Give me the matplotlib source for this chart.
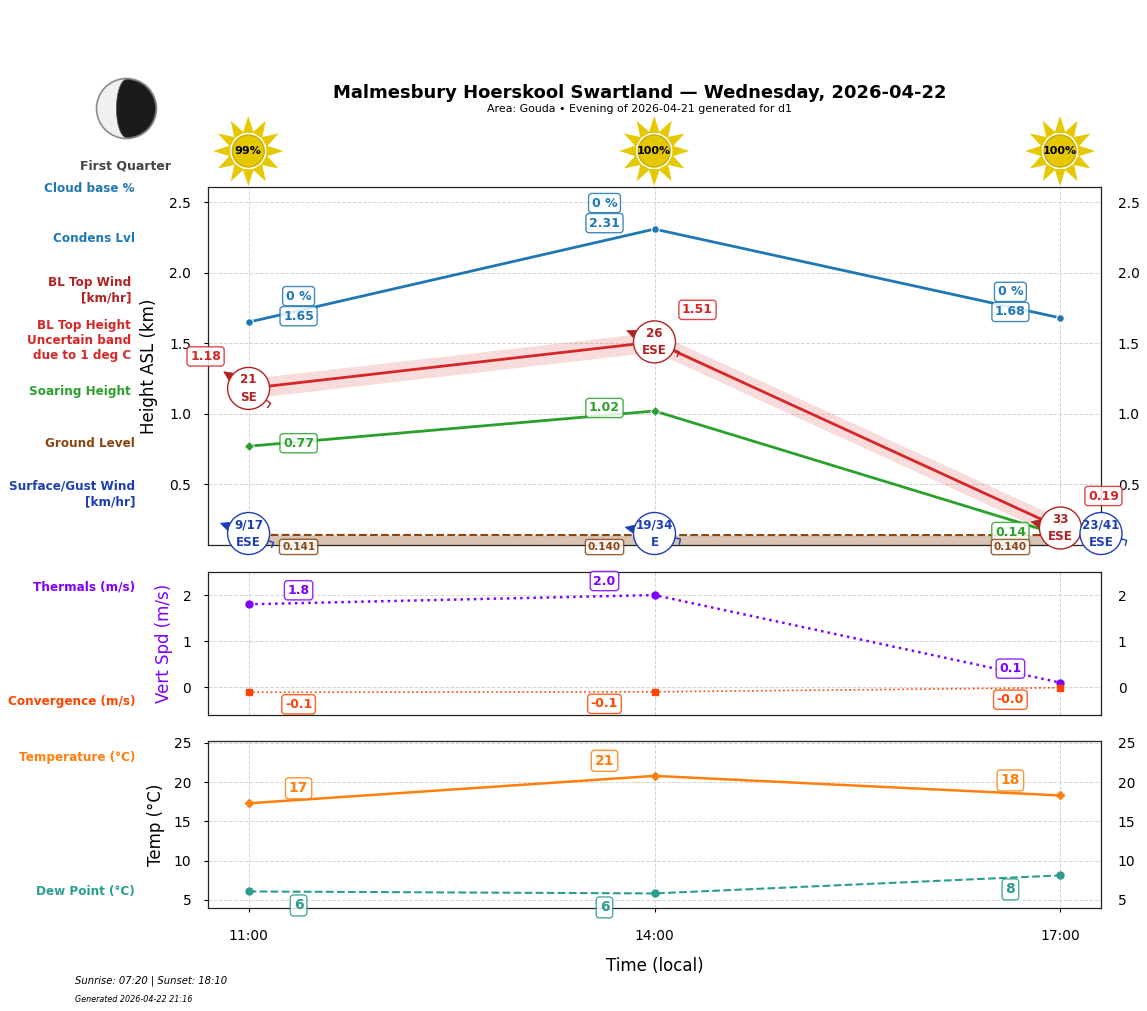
import numpy as np
import matplotlib
matplotlib.use("Agg")
import matplotlib.pyplot as plt
from matplotlib.patches import Polygon, Circle
from matplotlib.transforms import Affine2D

W, H = 1147, 1011

hours = [11, 14, 17]
hour_labels = ["11:00", "14:00", "17:00"]
sun_pct = [99, 100, 100]
cloud_pct = [0, 0, 0]
condens = [1.65, 2.31, 1.68]
bl_top = [1.18, 1.51, 0.19]
bl_low = [1.11, 1.44, 0.12]
bl_high = [1.25, 1.58, 0.26]
soaring = [0.77, 1.02, 0.14]
ground = [0.141, 0.140, 0.140]
bl_wind = ["21", "26", "33"]
bl_dir_name = ["SE", "ESE", "ESE"]
bl_dir = [124, 112, 102]
sfc_hours = [11, 14, 17.3]
sfc_y = [0.151, 0.151, 0.151]
sfc_wind = ["9/17", "19/34", "23/41"]
sfc_dir_name = ["ESE", "E", "ESE"]
sfc_dir = [110, 102, 105]
thermals = [1.8, 2.0, 0.1]
convergence = [-0.11, -0.10, -0.01]
temperature = [17.3, 20.8, 18.3]
dewpoint = [6.05, 5.8, 8.1]

C_COND = "#1f77b4"; C_BL = "#d62728"; C_BLW = "#b22222"; C_SOAR = "#2ca02c"
C_GND = "#8b4513"; C_SFC = "#1e3fb4"; C_TH = "#7f00ff"; C_CONV = "#ff4500"
C_T = "#ff7f0e"; C_D = "#2a9d8f"; GOLD = "#e6c800"

fig = plt.figure(figsize=(W / 100, H / 100), dpi=100)


def axes_px(l, t, r, b):
    return fig.add_axes([l / W, 1 - b / H, (r - l) / W, (b - t) / H])


ax1 = axes_px(208, 187, 1101, 545)
ax2 = axes_px(208, 572, 1101, 715)
ax3 = axes_px(208, 741, 1101, 908)

for ax in (ax1, ax2, ax3):
    ax.set_xlim(10.7, 17.3)
    ax.grid(True, ls="--", lw=0.7, color="#d4d4d4")
    ax.set_axisbelow(True)
    ax.set_xticks(hours)
    ax.tick_params(axis="y", labelsize=10, right=False, labelright=True, length=3, pad=9)
    ax.tick_params(axis="x", bottom=False, labelbottom=False, labelsize=10)
    for s in ax.spines.values():
        s.set_linewidth(0.9)
        s.set_color("#222222")

ax1.set_ylim(0.0695, 2.6085)
ax1.set_yticks([0.5, 1.0, 1.5, 2.0, 2.5])
ax2.set_ylim(-0.602, 2.5)
ax2.set_yticks([0, 1, 2])
ax3.set_ylim(3.94, 25.25)
ax3.set_yticks([5, 10, 15, 20, 25])
ax3.set_xticklabels(hour_labels)
ax3.tick_params(axis="x", bottom=True, labelbottom=True, length=3, pad=12)


def label(ax, x, y, txt, color, dx, dy, size=9):
    ax.annotate(txt, (x, y), xytext=(dx * 0.72, dy * 0.72), textcoords="offset points",
                ha="center", va="center", color=color, fontsize=size, fontweight="bold", zorder=12,
                annotation_clip=False,
                bbox=dict(boxstyle="round,pad=0.25", fc="white", ec=color, lw=1, alpha=0.85))


side = [50, -50, -50]

# Height panel
ax1.fill_between(hours, ax1.get_ylim()[0], ground, color=C_GND, alpha=0.32, lw=0, zorder=2)
ax1.plot(hours, ground, color=C_GND, ls="--", lw=1.5, zorder=2)
ax1.fill_between(hours, bl_low, bl_high, color=C_BL, alpha=0.16, lw=0, zorder=2)
ax1.plot(hours, condens, color=C_COND, lw=2, marker="o", ms=5.5, mec="white", mew=0.8, zorder=3)
ax1.plot(hours, soaring, color=C_SOAR, lw=2, marker="D", ms=5.5, mec="white", mew=0.6, zorder=3)
ax1.plot(hours, bl_top, color=C_BL, lw=2, zorder=3)


def wind_glyph(ax, x, y, bearing, speed, name, color):
    cx, cy = ax.transData.transform((x, y))
    th = np.radians(bearing)
    u = np.array([np.sin(th), np.cos(th)])
    n = np.array([-u[1], u[0]])
    tr = Affine2D().translate(cx, cy)
    tip = -u * 30
    base = -u * 18
    ax.add_patch(Polygon([tip, base + n * 5.5, -u * 21, base - n * 5.5], closed=True, fc=color, ec=color,
                         lw=0.5, transform=tr, clip_on=False, zorder=6))
    tail = u * 26.5
    hook = tail - n * 5
    ax.plot([0, tail[0], hook[0]], [0, tail[1], hook[1]], color=color, lw=1, transform=tr,
            clip_on=False, zorder=6)
    ax.add_patch(Circle((0, 0), 21, fc="white", ec=color, lw=1, transform=tr, clip_on=False, zorder=7))
    ax.annotate(speed, (x, y), xytext=(0, 6.2), textcoords="offset points", ha="center", va="center",
                color=color, fontsize=8.6, fontweight="bold", zorder=8, annotation_clip=False)
    ax.annotate(name, (x, y), xytext=(0, -6.2), textcoords="offset points", ha="center", va="center",
                color=color, fontsize=8.6, fontweight="bold", zorder=8, annotation_clip=False)


for i, h in enumerate(hours):
    wind_glyph(ax1, h, bl_top[i], bl_dir[i], bl_wind[i], bl_dir_name[i], C_BLW)
for i, h in enumerate(sfc_hours):
    wind_glyph(ax1, h, sfc_y[i], sfc_dir[i], sfc_wind[i], sfc_dir_name[i], C_SFC)

for i, h in enumerate(hours):
    label(ax1, h, condens[i], f"{cloud_pct[i]} %", C_COND, side[i], 26)
    label(ax1, h, condens[i], f"{condens[i]:.2f}", C_COND, side[i], 6)
    label(ax1, h, soaring[i], f"{soaring[i]:.2f}", C_SOAR, side[i], 3)
    label(ax1, h, ground[i], f"{ground[i]:.3f}", C_GND, side[i], -12, size=7.5)
    label(ax1, h, bl_top[i], f"{bl_top[i]:.2f}", C_BL, [-43, 43, 43][i], 32)

# Vertical speed panel
ax2.plot(hours, thermals, color=C_TH, lw=1.8, ls=":", marker="o", ms=5, zorder=3)
ax2.plot(hours, convergence, color=C_CONV, lw=1.2, ls=":", marker="s", ms=5, zorder=3)
for i, h in enumerate(hours):
    label(ax2, h, thermals[i], f"{thermals[i]:.1f}", C_TH, side[i], 14)
    label(ax2, h, convergence[i], f"{convergence[i]:.1f}", C_CONV, side[i], -12)

# Temperature panel
ax3.plot(hours, temperature, color=C_T, lw=1.8, marker="D", ms=4.5, zorder=3)
ax3.plot(hours, dewpoint, color=C_D, lw=1.5, ls="--", marker="o", ms=5, zorder=3)
for i, h in enumerate(hours):
    label(ax3, h, temperature[i], f"{temperature[i]:.0f}", C_T, side[i], 15, size=10)
    label(ax3, h, dewpoint[i], f"{dewpoint[i]:.0f}", C_D, side[i], -14, size=10)

# Axis titles
ax1.set_ylabel("Height ASL (km)", fontsize=12)
ax1.yaxis.set_label_coords(-50 / 893, 0.5)
ax2.set_ylabel("Vert Spd (m/s)", fontsize=12, color=C_TH)
ax2.yaxis.set_label_coords(-35 / 893, 0.5)
ax3.set_ylabel("Temp (°C)", fontsize=12)
ax3.yaxis.set_label_coords(-43 / 893, 0.5)
ax3.set_xlabel("Time (local)", fontsize=12, labelpad=10)


def ftext(px, py, s, **kw):
    fig.text(px / W, 1 - py / H, s, **kw)


ftext(639.5, 93, "Malmesbury Hoerskool Swartland — Wednesday, 2026-04-22", ha="center", va="center",
      fontsize=13, fontweight="bold")
ftext(639.5, 109, "Area: Gouda • Evening of 2026-04-21 generated for d1", ha="center", va="center", fontsize=7.9)
ftext(126, 166, "First Quarter", ha="center", va="center", fontsize=9, fontweight="bold", color="#444444")
ftext(75, 981, "Sunrise: 07:20 | Sunset: 18:10", ha="left", va="center", fontsize=7.2, style="italic")
ftext(75, 1000, "Generated 2026-04-22 21:16", ha="left", va="center", fontsize=5.75, style="italic")

side_labels = [
    (135, 188, "Cloud base %", C_COND),
    (135, 239, "Condens Lvl", C_COND),
    (131, 290, "BL Top Wind\n[km/hr]", C_BLW),
    (131, 341, "BL Top Height\nUncertain band\ndue to 1 deg C", C_BL),
    (131, 392, "Soaring Height", C_SOAR),
    (135, 443, "Ground Level", C_GND),
    (135, 494, "Surface/Gust Wind\n[km/hr]", C_SFC),
    (135, 587, "Thermals (m/s)", C_TH),
    (135, 701, "Convergence (m/s)", C_CONV),
    (135, 758, "Temperature (°C)", C_T),
    (135, 892, "Dew Point (°C)", C_D),
]
for px, py, s, c in side_labels:
    ftext(px, py, s, ha="right", va="center", fontsize=8.65, fontweight="bold", color=c, linespacing=1.2)

# Sun icons
for h, pct in zip(hours, sun_pct):
    sx = ax1.transData.transform((h, 0))[0] - 0.3
    tr = Affine2D().translate(sx, H - 151)
    for k in range(12):
        a = np.radians(30 * k)
        u = np.array([np.sin(a), np.cos(a)])
        n = np.array([u[1], -u[0]])
        fig.add_artist(Polygon([u * 35, u * 18 + n * 5.5, u * 18 - n * 5.5], closed=True, fc=GOLD, ec="none",
                               transform=tr, zorder=5))
    fig.add_artist(Circle((0, 0), 17.5, fc="white", ec="none", transform=tr, zorder=5))
    fig.add_artist(Circle((0, 0), 16, fc=GOLD, ec="#c8ae00", lw=1, transform=tr, zorder=6))
    fig.text(sx / W, 1 - 151 / H, f"{pct}%", ha="center", va="center", fontsize=8, fontweight="bold", zorder=7)

# Moon icon
mtr = Affine2D().translate(126.5, H - 108.5)
fig.add_artist(Circle((0, 0), 30, fc="#f0f0f0", ec="#8c8c8c", lw=1.2, transform=mtr, zorder=5))
t = np.linspace(-np.pi / 2, np.pi / 2, 80)
dark = np.concatenate([np.c_[29 * np.cos(t), 29 * np.sin(t)], np.c_[-10 * np.cos(t[::-1]), 29 * np.sin(t[::-1])]])
fig.add_artist(Polygon(dark, closed=True, fc="#1a1a1a", ec="#555555", lw=0.6, transform=mtr, zorder=6))

fig.savefig("out.png", dpi=100, facecolor="white")
